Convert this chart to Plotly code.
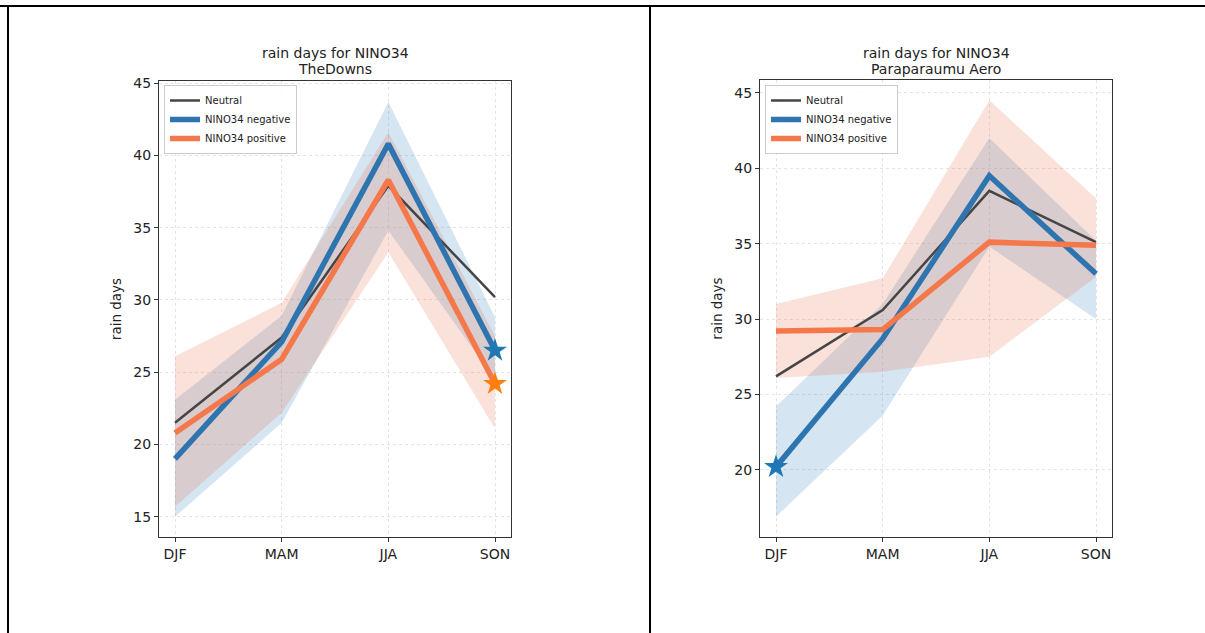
import plotly.graph_objects as go

seasons = ["DJF", "MAM", "JJA", "SON"]
xpos = [0, 1, 2, 3]

# TheDowns
downs_neutral = [21.5, 27.4, 37.9, 30.2]
downs_neg = [19.0, 27.1, 40.8, 26.5]
downs_pos = [20.8, 25.9, 38.3, 24.2]
downs_neg_lo = [15.0, 21.5, 34.8, 24.5]
downs_neg_hi = [23.1, 28.9, 43.7, 28.8]
downs_pos_lo = [15.7, 22.2, 33.3, 21.1]
downs_pos_hi = [26.1, 29.8, 41.6, 27.5]
downs_neg_star = [None, None, None, 26.5]
downs_pos_star = [None, None, None, 24.2]

# Paraparaumu Aero
para_neutral = [26.2, 30.6, 38.5, 35.1]
para_neg = [20.2, 28.7, 39.5, 33.0]
para_pos = [29.2, 29.3, 35.1, 34.9]
para_neg_lo = [16.9, 23.6, 34.8, 30.0]
para_neg_hi = [24.2, 31.0, 42.0, 35.2]
para_pos_lo = [26.1, 26.5, 27.5, 32.8]
para_pos_hi = [31.0, 32.7, 44.5, 38.0]
para_neg_star = [20.2, None, None, None]
para_pos_star = [None, None, None, None]

yticks = [15, 20, 25, 30, 35, 40, 45]

BLUE = "#2e75b0"
ORANGE = "#f4784a"
NEUTRAL = "#454545"
BLUE_BAND = "rgba(31,119,180,0.19)"
ORANGE_BAND = "rgba(232,120,88,0.22)"

fig = go.Figure()

def add_panel(xa, ya, leg, neutral, neg, pos, neg_lo, neg_hi, pos_lo, pos_hi, neg_star, pos_star):
    fig.add_trace(go.Scatter(x=xpos + xpos[::-1], y=neg_hi + neg_lo[::-1], fill="toself",
                             fillcolor=BLUE_BAND, line=dict(width=0), mode="lines",
                             showlegend=False, hoverinfo="skip", xaxis=xa, yaxis=ya))
    fig.add_trace(go.Scatter(x=xpos + xpos[::-1], y=pos_hi + pos_lo[::-1], fill="toself",
                             fillcolor=ORANGE_BAND, line=dict(width=0), mode="lines",
                             showlegend=False, hoverinfo="skip", xaxis=xa, yaxis=ya))
    fig.add_trace(go.Scatter(x=xpos, y=neutral, mode="lines", name="Neutral",
                             line=dict(color=NEUTRAL, width=2.5), xaxis=xa, yaxis=ya, legend=leg))
    fig.add_trace(go.Scatter(x=xpos, y=neg, mode="lines", name="NINO34 negative",
                             line=dict(color=BLUE, width=5.5), xaxis=xa, yaxis=ya, legend=leg))
    fig.add_trace(go.Scatter(x=xpos, y=pos, mode="lines", name="NINO34 positive",
                             line=dict(color=ORANGE, width=5.5), xaxis=xa, yaxis=ya, legend=leg))
    fig.add_trace(go.Scatter(x=xpos, y=neg_star, mode="markers", showlegend=False,
                             marker=dict(symbol="star", size=18, color="#1f77b4"),
                             xaxis=xa, yaxis=ya))
    fig.add_trace(go.Scatter(x=xpos, y=pos_star, mode="markers", showlegend=False,
                             marker=dict(symbol="star", size=18, color="#ff7f0e"),
                             xaxis=xa, yaxis=ya))

add_panel("x", "y", "legend", downs_neutral, downs_neg, downs_pos, downs_neg_lo, downs_neg_hi,
          downs_pos_lo, downs_pos_hi, downs_neg_star, downs_pos_star)
add_panel("x2", "y2", "legend2", para_neutral, para_neg, para_pos, para_neg_lo, para_neg_hi,
          para_pos_lo, para_pos_hi, para_neg_star, para_pos_star)

font = "DejaVu Sans"
W, H = 1205, 633

def xaxis(domain, anchor):
    return dict(domain=domain, range=[-0.15, 3.15], anchor=anchor, tickmode="array",
                tickvals=xpos, ticktext=seasons, showgrid=True, gridcolor="#e4e4e4",
                griddash="dot", gridwidth=1, zeroline=False, showline=True, mirror=True,
                linecolor="#333", linewidth=1.2, ticks="outside", ticklen=4, tickcolor="#333",
                automargin=False,
                tickfont=dict(family=font, size=14, color="#222"))

def yaxis(domain, rng, anchor):
    return dict(domain=domain, range=rng, anchor=anchor, tickmode="array", tickvals=yticks,
                showgrid=True, gridcolor="#e4e4e4", griddash="dot", gridwidth=1,
                zeroline=False, showline=True, mirror=True, linecolor="#333", linewidth=1.2,
                ticks="outside", ticklen=4, tickcolor="#333", automargin=False,
                tickfont=dict(family=font, size=14, color="#222"),
                title=dict(text="rain days", font=dict(family=font, size=13.5, color="#222"),
                           standoff=8))

def legend(x, y):
    return dict(x=x, y=y, xanchor="left", yanchor="top", xref="paper", yref="paper",
                bgcolor="rgba(255,255,255,0.85)", bordercolor="#cccccc", borderwidth=1,
                font=dict(family=font, size=10, color="#222"), tracegroupgap=0,
                itemwidth=30)

fig.update_layout(
    width=W, height=H, margin=dict(l=0, r=0, t=0, b=0, pad=0, autoexpand=False),
    paper_bgcolor="white", plot_bgcolor="white",
    xaxis=xaxis([159 / W, 511 / W], "y"),
    yaxis=yaxis([1 - 537 / H, 1 - 81 / H], [13.6, 45.15], "x"),
    xaxis2=xaxis([760 / W, 1112 / W], "y2"),
    yaxis2=yaxis([1 - 537 / H, 1 - 80 / H], [15.55, 45.85], "x2"),
    legend=legend(164 / W, 1 - 85 / H),
    legend2=legend(765 / W, 1 - 85 / H),
    showlegend=True,
)

for cx, name in [((159 + 511) / 2, "TheDowns"), ((760 + 1112) / 2, "Paraparaumu Aero")]:
    fig.add_annotation(x=cx / W, y=1 - 53 / H, xref="paper", yref="paper", xanchor="center",
                       yanchor="middle", showarrow=False, text="rain days for NINO34",
                       font=dict(family=font, size=14, color="#222"))
    fig.add_annotation(x=cx / W, y=1 - 69 / H, xref="paper", yref="paper", xanchor="center",
                       yanchor="middle", showarrow=False, text=name,
                       font=dict(family=font, size=14, color="#222"))

# document table borders
line = dict(color="black", width=2)
fig.add_shape(type="line", xref="paper", yref="paper", x0=0, x1=1, y0=1 - 6 / H, y1=1 - 6 / H,
              line=line)
fig.add_shape(type="line", xref="paper", yref="paper", x0=8 / W, x1=8 / W, y0=0, y1=1 - 6 / H,
              line=line)
fig.add_shape(type="line", xref="paper", yref="paper", x0=650 / W, x1=650 / W, y0=0,
              y1=1 - 6 / H, line=line)

fig.write_html(
    "out.html",
    config={"displayModeBar": False},
    post_script=(
        "document.body.style.margin='0px';document.body.style.overflow='hidden';"
        "var d=document.getElementById('{plot_id}');"
        "d.style.position='absolute';d.style.top='0px';d.style.left='0px';"
    ),
)
